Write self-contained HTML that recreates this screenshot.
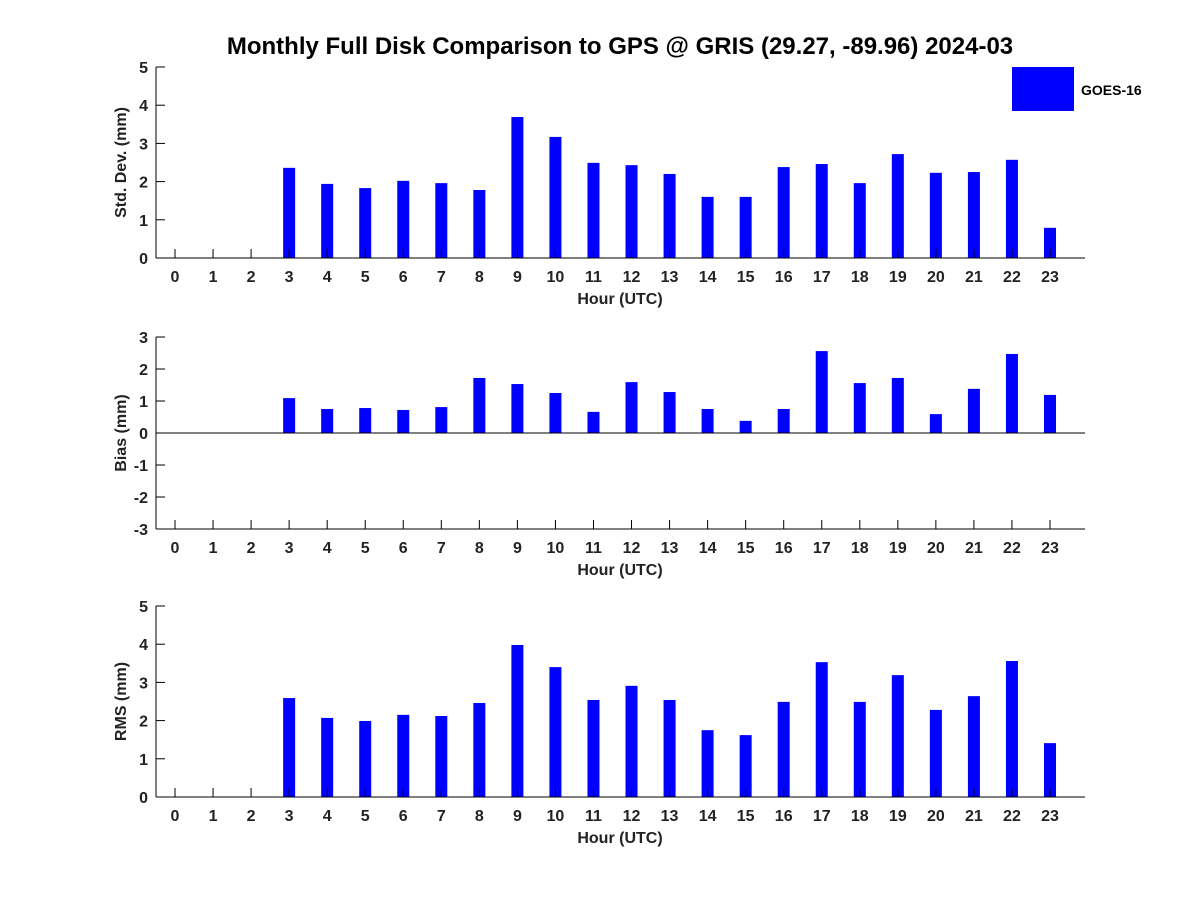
<!DOCTYPE html>
<html><head><meta charset="utf-8"><style>
body{margin:0;background:#fff;}
svg{display:block;font-family:"Liberation Sans","DejaVu Sans",sans-serif;}
</style></head><body>
<svg id="chart" width="1200" height="900">
<text x="620" y="54" text-anchor="middle" font-size="24" font-weight="bold" fill="#000">Monthly Full Disk Comparison to GPS @ GRIS (29.27, -89.96) 2024-03</text>
<g>
<rect x="1012" y="67" width="62" height="44" fill="#0000ff"/>
<text x="1081" y="95" font-size="14" font-weight="bold">GOES-16</text>
</g>
</svg>
<script>
const hours=[0,1,2,3,4,5,6,7,8,9,10,11,12,13,14,15,16,17,18,19,20,21,22,23];
const stdValues=[null,null,null,2.36,1.94,1.83,2.02,1.96,1.78,3.69,3.17,2.49,2.43,2.2,1.6,1.6,2.38,2.46,1.96,2.72,2.23,2.25,2.57,0.79];
const biasValues=[null,null,null,1.09,0.75,0.78,0.72,0.81,1.72,1.53,1.25,0.66,1.59,1.28,0.75,0.38,0.75,2.56,1.56,1.72,0.59,1.38,2.47,1.19];
const rmsValues=[null,null,null,2.59,2.07,1.99,2.15,2.12,2.46,3.98,3.4,2.54,2.91,2.54,1.75,1.62,2.49,3.53,2.49,3.19,2.28,2.64,3.56,1.41];
const stdTicks=[0,1,2,3,4,5];
const biasTicks=[-3,-2,-1,0,1,2,3];
const rmsTicks=[0,1,2,3,4,5];
const NS="http://www.w3.org/2000/svg";
const svg=document.getElementById('chart');
function mk(tag,attrs,parent){const e=document.createElementNS(NS,tag);for(const k in attrs)e.setAttribute(k,attrs[k]);(parent||svg).appendChild(e);return e;}
const L=156,R=1085;
function xScale(h){return 175+h*(1050-175)/23;}
function panel(name,vals,ticks,top,bottom,ylabel){
  const g=mk('g',{});
  
  
  const ymin=ticks[0],ymax=ticks[ticks.length-1];
  const y=v=>bottom-(v-ymin)/(ymax-ymin)*(bottom-top);
  const y0=y(Math.max(0,ymin));
  vals.forEach((v,i)=>{
    if(v==null)return;
    const a=y(v),b=y(0);
    const r=mk('rect',{x:xScale(hours[i])-6,y:Math.min(a,b),width:12,height:Math.abs(b-a),fill:'#0000ff'},g);
    
    
  });
  mk('line',{x1:L,y1:top,x2:L,y2:bottom,stroke:'#000','stroke-width':1},g);
  mk('line',{x1:L,y1:bottom,x2:R,y2:bottom,stroke:'#000','stroke-width':1},g);
  if(ymin<0) mk('line',{x1:L,y1:y0,x2:R,y2:y0,stroke:'#000','stroke-width':1},g);
  ticks.forEach(t=>{
    mk('line',{x1:L,y1:y(t),x2:L+9,y2:y(t),stroke:'#000'},g);
    const tx=mk('text',{x:L-8,y:y(t)+6,'text-anchor':'end','font-size':16,'font-weight':'bold',fill:'#222'},g);
    tx.textContent=t;
    
    
  });
  hours.forEach(h=>{
    mk('line',{x1:xScale(h),y1:bottom,x2:xScale(h),y2:bottom-9,stroke:'#000'},g);
    const tx=mk('text',{x:xScale(h),y:bottom+24,'text-anchor':'middle','font-size':16,'font-weight':'bold',fill:'#222'},g);
    tx.textContent=h;
    
    
  });
  const xt=mk('text',{x:620,y:bottom+46,'text-anchor':'middle','font-size':16,'font-weight':'bold',fill:'#222'},g);
  xt.textContent='Hour (UTC)';
  
  
  const cy=(top+bottom)/2;
  const yt=mk('text',{x:126,y:cy,'text-anchor':'middle','font-size':16,'font-weight':'bold',fill:'#222',transform:'rotate(-90 126 '+cy+')'},g);
  yt.textContent=ylabel;
  
  
}
panel('std-dev',stdValues,stdTicks,67,258,'Std. Dev. (mm)');
panel('bias',biasValues,biasTicks,337,529,'Bias (mm)');
panel('rms',rmsValues,rmsTicks,606,797,'RMS (mm)');
</script>
</body></html>
